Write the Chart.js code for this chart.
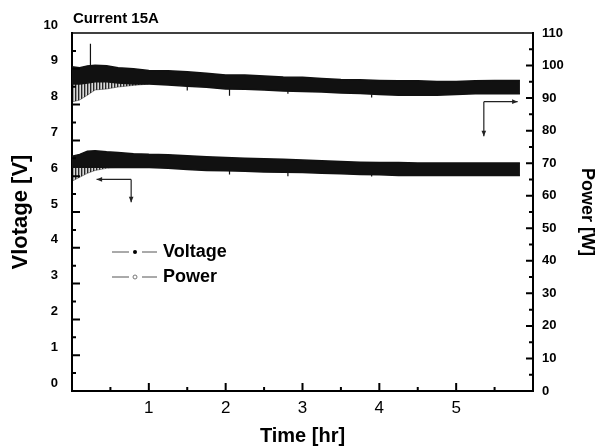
<!DOCTYPE html>
<html>
<head>
<meta charset="utf-8">
<title>Current 15A</title>
<script src="https://cdn.jsdelivr.net/npm/chart.js@4.4.0/dist/chart.umd.min.js"></script>
<style>
  html, body { margin: 0; padding: 0; background: #fff; }
  #wrap { width: 598px; height: 448px; }
</style>
</head>
<body>
<div id="wrap"><canvas id="myChart" width="598" height="448"></canvas></div>
<script>
var timeHr = [0, 0.1, 0.2, 0.3, 0.45, 0.6, 0.8, 1.0, 1.25, 1.5, 1.75, 2.0, 2.25, 2.5, 2.75, 3.0, 3.25, 3.5, 3.75, 4.0, 4.25, 4.5, 4.75, 5.0, 5.25, 5.5, 5.83];

// Voltage trace (left axis, V) - upper and lower edge of the noisy band
var voltageTop = [6.56, 6.61, 6.70, 6.71, 6.68, 6.66, 6.63, 6.61, 6.60, 6.57, 6.54, 6.52, 6.50, 6.49, 6.47, 6.45, 6.43, 6.41, 6.39, 6.38, 6.38, 6.37, 6.37, 6.37, 6.37, 6.37, 6.37];
var voltageBottom = [6.25, 6.25, 6.25, 6.25, 6.25, 6.24, 6.24, 6.24, 6.22, 6.19, 6.16, 6.15, 6.14, 6.12, 6.11, 6.10, 6.08, 6.07, 6.05, 6.04, 6.02, 6.02, 6.02, 6.02, 6.02, 6.02, 6.02];

// Power trace (right axis, W)
var powerTop = [99.6, 99.3, 99.9, 100.1, 99.9, 99.3, 99.0, 98.5, 98.4, 98.1, 97.6, 97.1, 97.1, 96.8, 96.5, 96.4, 96.0, 95.7, 95.6, 95.4, 95.3, 95.3, 95.1, 95.1, 95.3, 95.4, 95.4];
var powerBottom = [94.3, 94.3, 94.6, 95.0, 95.0, 94.6, 94.3, 94.3, 94.0, 93.6, 93.3, 92.8, 92.7, 92.5, 92.2, 92.0, 91.9, 91.6, 91.4, 91.1, 90.9, 90.9, 90.9, 91.1, 91.3, 91.3, 91.3];

// start-up oscillation (striped part below the bands)
var startTime = [0, 0.1, 0.2, 0.3, 0.45, 0.6, 0.8, 1.0];
var voltageStartLow = [5.86, 5.97, 6.08, 6.16, 6.22, 6.24, 6.24, 6.24];
var powerStartLow = [88.8, 89.4, 90.9, 92.5, 92.8, 93.4, 93.9, 94.3];

// single spikes
var powerSpikeTime = [0.24, 1.5, 2.05, 2.81, 3.9];
var powerSpikeFrom = [99.9, 93.6, 92.8, 92.2, 91.2];
var powerSpikeTo = [106.7, 92.3, 90.7, 91.3, 90.2];
var voltageSpikeTime = [2.05, 2.81, 3.9];
var voltageSpikeFrom = [6.15, 6.11, 6.05];
var voltageSpikeTo = [6.05, 6.0, 5.99];

var timeTicks = [1, 2, 3, 4, 5];

var fontFamily = "Arial, 'Liberation Sans', Helvetica, sans-serif";

function pts(xs, ys) {
  return xs.map(function (x, i) { return { x: x, y: ys[i] }; });
}
function spikes(xs, from, to) {
  var out = [];
  xs.forEach(function (x, i) {
    out.push({ x: x, y: from[i] }, { x: x, y: to[i] }, { x: x, y: null });
  });
  return out;
}

// vertical stripes for the oscillating start
var stripeCanvas = document.createElement('canvas');
stripeCanvas.width = 3;
stripeCanvas.height = 4;
var sc = stripeCanvas.getContext('2d');
sc.fillStyle = 'rgba(0,0,0,0.85)';
sc.fillRect(0, 0, 1.4, 4);
sc.fillStyle = 'rgba(0,0,0,0.15)';
sc.fillRect(1.4, 0, 1.6, 4);
var stripes = sc.createPattern(stripeCanvas, 'repeat');

function arrow(ctx, x1, y1, x2, y2) {
  var ang = Math.atan2(y2 - y1, x2 - x1), h = 6;
  ctx.beginPath();
  ctx.moveTo(x1, y1);
  ctx.lineTo(x2, y2);
  ctx.stroke();
  ctx.beginPath();
  ctx.moveTo(x2, y2);
  ctx.lineTo(x2 - h * Math.cos(ang - 0.4), y2 - h * Math.sin(ang - 0.4));
  ctx.lineTo(x2 - h * Math.cos(ang + 0.4), y2 - h * Math.sin(ang + 0.4));
  ctx.closePath();
  ctx.fill();
}

// frame, inward ticks, legend, arrows and the "Current 15A" note
var paperPlugin = {
  id: 'paper',
  afterDraw: function (chart) {
    var ctx = chart.ctx, a = chart.chartArea;
    var xs = chart.scales.x, yl = chart.scales.y, yr = chart.scales.y1;
    var v, p, len;
    ctx.save();
    ctx.strokeStyle = '#000';
    ctx.fillStyle = '#000';

    ctx.lineWidth = 1.5;
    ctx.beginPath();
    ctx.moveTo(a.left, a.top);
    ctx.lineTo(a.right, a.top);
    ctx.stroke();

    ctx.lineWidth = 2;
    ctx.beginPath();
    for (v = 0.5; v < 6; v += 0.5) {
      p = xs.getPixelForValue(v);
      len = v % 1 === 0 ? 8 : 4;
      ctx.moveTo(p, a.bottom); ctx.lineTo(p, a.bottom - len);
    }
    for (v = 0.5; v < 10; v += 0.5) {
      p = yl.getPixelForValue(v);
      len = v % 1 === 0 ? 8 : 4;
      ctx.moveTo(a.left, p); ctx.lineTo(a.left + len, p);
    }
    for (v = 5; v < 110; v += 5) {
      p = yr.getPixelForValue(v);
      len = v % 10 === 0 ? 7 : 4;
      ctx.moveTo(a.right, p); ctx.lineTo(a.right - len, p);
    }
    ctx.stroke();

    // note above the plot
    ctx.font = 'bold 15px ' + fontFamily;
    ctx.textAlign = 'left';
    ctx.textBaseline = 'middle';
    ctx.fillText('Current 15A', a.left + 1, 19);

    // legend
    var rows = [{ label: chart.data.datasets[0].label, y: 252, filled: true },
                { label: chart.data.datasets[3].label, y: 277, filled: false }];
    rows.forEach(function (r) {
      ctx.strokeStyle = '#555';
      ctx.lineWidth = 1;
      ctx.beginPath();
      ctx.moveTo(112, r.y); ctx.lineTo(129, r.y);
      ctx.moveTo(142, r.y); ctx.lineTo(157, r.y);
      ctx.stroke();
      ctx.beginPath();
      ctx.arc(135, r.y, 2, 0, Math.PI * 2);
      if (r.filled) { ctx.fillStyle = '#000'; ctx.fill(); } else { ctx.strokeStyle = '#777'; ctx.stroke(); }
      ctx.fillStyle = '#000';
      ctx.font = 'bold 18px ' + fontFamily;
      ctx.fillText(r.label, 163, r.y);
    });

    // arrows pointing at the axis each trace belongs to
    ctx.strokeStyle = '#222';
    ctx.fillStyle = '#222';
    ctx.lineWidth = 1.2;
    var cx = xs.getPixelForValue(0.77), cy = yl.getPixelForValue(5.91);
    arrow(ctx, cx, cy, xs.getPixelForValue(0.32), cy);
    arrow(ctx, cx, cy, cx, yl.getPixelForValue(5.27));
    cx = xs.getPixelForValue(5.36); cy = yr.getPixelForValue(88.9);
    arrow(ctx, cx, cy, xs.getPixelForValue(5.80), cy);
    arrow(ctx, cx, cy, cx, yr.getPixelForValue(78.3));
    ctx.restore();
  }
};

var edge = { pointRadius: 0, borderColor: '#111', borderWidth: 1.5, tension: 0 };

var ctx = document.getElementById('myChart');
var myChart = new Chart(ctx, {
  type: 'line',
  data: {
    datasets: [
      Object.assign({ label: 'Voltage', data: pts(timeHr, voltageTop), yAxisID: 'y', fill: false }, edge),
      Object.assign({ label: 'Voltage low', data: pts(timeHr, voltageBottom), yAxisID: 'y', fill: '-1', backgroundColor: '#111' }, edge),
      Object.assign({ label: 'Voltage start', data: pts(startTime, voltageStartLow), yAxisID: 'y', fill: '-1', backgroundColor: stripes }, edge, { borderColor: 'rgba(0,0,0,0.4)', borderWidth: 1 }),
      Object.assign({ label: 'Power', data: pts(timeHr, powerTop), yAxisID: 'y1', fill: false }, edge),
      Object.assign({ label: 'Power low', data: pts(timeHr, powerBottom), yAxisID: 'y1', fill: '-1', backgroundColor: '#111' }, edge),
      Object.assign({ label: 'Power start', data: pts(startTime, powerStartLow), yAxisID: 'y1', fill: '-1', backgroundColor: stripes }, edge, { borderColor: 'rgba(0,0,0,0.4)', borderWidth: 1 }),
      Object.assign({ label: 'Power spikes', data: spikes(powerSpikeTime, powerSpikeFrom, powerSpikeTo), yAxisID: 'y1', fill: false, spanGaps: false }, edge, { borderWidth: 1.2 }),
      Object.assign({ label: 'Voltage spikes', data: spikes(voltageSpikeTime, voltageSpikeFrom, voltageSpikeTo), yAxisID: 'y', fill: false, spanGaps: false }, edge, { borderWidth: 1.2 })
    ]
  },
  options: {
    responsive: false,
    animation: false,
    layout: { padding: { top: 33, left: 0, right: 0, bottom: 0 } },
    plugins: {
      legend: { display: false },
      tooltip: { enabled: false },
      title: { display: false }
    },
    scales: {
      x: {
        type: 'linear', min: 0, max: 6,
        grid: { display: false, drawTicks: false },
        border: { display: true, color: '#000', width: 2 },
        ticks: {
          stepSize: 1, padding: 7, color: '#000',
          font: { family: fontFamily, size: 17 },
          callback: function (v) { return timeTicks.indexOf(v) >= 0 ? v : ''; }
        },
        title: { display: true, text: 'Time [hr]', color: '#000', font: { family: fontFamily, size: 20, weight: 'bold' }, padding: { top: 0, bottom: 0 } },
        afterFit: function (s) { s.height = 57; }
      },
      y: {
        position: 'left', min: 0, max: 10,
        grid: { display: false, drawTicks: false },
        border: { display: true, color: '#000', width: 2 },
        ticks: { stepSize: 1, padding: 14, labelOffset: -8, color: '#000', font: { family: fontFamily, size: 13, weight: 'bold' } },
        title: { display: true, text: 'Vlotage [V]', color: '#000', font: { family: fontFamily, size: 22, weight: 'bold' }, padding: { top: 8, bottom: 0 } },
        afterFit: function (s) { s.width = 72; }
      },
      y1: {
        position: 'right', min: 0, max: 110,
        grid: { display: false, drawTicks: false },
        border: { display: true, color: '#000', width: 2 },
        ticks: { stepSize: 10, padding: 9, color: '#000', font: { family: fontFamily, size: 13, weight: 'bold' } },
        title: { display: true, text: 'Power [W]', color: '#000', font: { family: fontFamily, size: 18, weight: 'bold' }, padding: { top: 0, bottom: 0 } },
        afterFit: function (s) { s.width = 65; }
      }
    }
  },
  plugins: [paperPlugin]
});
</script>
</body>
</html>
